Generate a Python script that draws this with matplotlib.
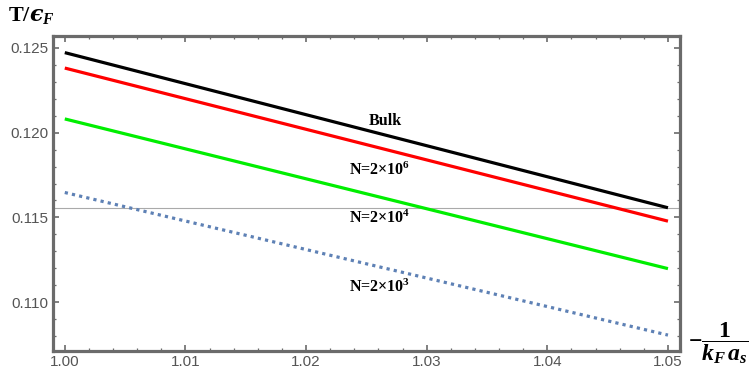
import matplotlib
matplotlib.use("Agg")
import matplotlib.pyplot as plt
from matplotlib.ticker import MultipleLocator

plt.rcParams['mathtext.fontset'] = 'custom'
plt.rcParams['mathtext.rm'] = 'Liberation Serif:bold'
plt.rcParams['mathtext.bf'] = 'Liberation Serif:bold'
plt.rcParams['mathtext.it'] = 'Liberation Serif:italic:bold'
plt.rcParams['mathtext.sf'] = 'DejaVu Serif:italic:bold'

# values
x = [1.00, 1.05]
bulk = [0.12472, 0.11557]
n_2e6 = [0.12381, 0.11478]
n_2e4 = [0.12081, 0.11198]
n_2e3 = [0.11647, 0.10806]
hline_y = 0.11557

labels = ["Bulk", r"N=2×10$^{6}$", r"N=2×10$^{4}$", r"N=2×10$^{3}$"]
label_x = [1.0266, 1.0261, 1.0261, 1.0261]
label_y = [0.12071, 0.1178, 0.11494, 0.11088]

FRAME = "#6b6b6b"

fig = plt.figure(figsize=(7.51, 3.79), dpi=100)
ax = fig.add_axes([0.0702, 0.0747, 0.8353, 0.8303])

ax.axhline(hline_y, color="#aaaaaa", lw=0.8, zorder=1)
ax.plot(x, bulk, color="black", lw=2.3, solid_capstyle="butt")
ax.plot(x, n_2e6, color="#ff0000", lw=2.3, solid_capstyle="butt")
ax.plot(x, n_2e4, color="#00ee00", lw=2.3, solid_capstyle="butt")
ax.plot(x, n_2e3, color="#5e81b5", lw=2.3, linestyle=(0, (1, 1.3)))

for t, lx, ly in zip(labels, label_x, label_y):
    ax.text(lx, ly, t, ha="center", va="center", fontsize=11.5,
            fontfamily="Liberation Serif", fontweight="bold")

ax.set_xlim(0.999, 1.051)
ax.set_ylim(0.10714, 0.1257)

ax.xaxis.set_major_locator(MultipleLocator(0.01))
ax.xaxis.set_minor_locator(MultipleLocator(0.002))
ax.yaxis.set_major_locator(MultipleLocator(0.005))
ax.yaxis.set_minor_locator(MultipleLocator(0.001))
ax.xaxis.set_major_formatter(plt.FormatStrFormatter("%.2f"))
ax.yaxis.set_major_formatter(plt.FormatStrFormatter("%.3f"))

for s in ax.spines.values():
    s.set_color(FRAME)
    s.set_linewidth(2.3)

ax.tick_params(which="both", direction="in", top=True, right=True,
               color=FRAME, labelcolor="#555555")
ax.tick_params(which="major", length=4, width=1.2, labelsize=11, pad=3)
ax.tick_params(which="minor", length=2.5, width=0.9)
for lab in ax.get_xticklabels() + ax.get_yticklabels():
    lab.set_fontfamily("Liberation Sans")

fig.text(0.011, 0.958, r"$\mathrm{T/}\mathsf{ϵ}_F$", ha="left", va="center",
         fontsize=16)
fig.text(0.916, 0.094, r"$-\dfrac{1}{k_F\,a_s}$", ha="left", va="center",
         fontsize=17)

fig.savefig("out.png", dpi=100)
